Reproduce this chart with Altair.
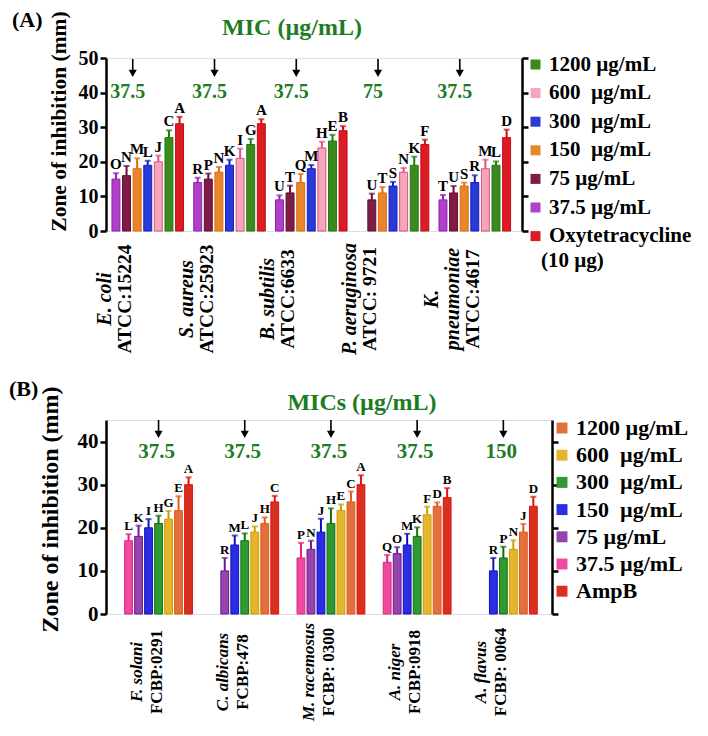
import altair as alt
import pandas as pd

FONT = "Liberation Serif"
GREEN = "#1c7c24"
ARROW = "M-0.09,-1L0.09,-1L0.09,0.2L0.45,0.2L0,1L-0.45,0.2L-0.09,0.2Z"

# ---------------- Panel A (bacteria) ----------------
A_GROUPS = ["E. coli", "S. aureus", "B. subtilis", "P. aeruginosa", "K. pneumoniae"]
A_SPECIES = [["E. coli"], ["S. aureus"], ["B. subtilis"], ["P. aeruginosa"], ["K.", "pneumoniae"]]
A_STRAINS = ["ATCC:15224", "ATCC:25923", "ATCC:6633", "ATCC: 9721", "ATCC:4617"]
A_SERIES = ["37.5 µg/mL", "75 µg/mL", "150\u00a0 µg/mL", "300\u00a0 µg/mL",
            "600\u00a0 µg/mL", "1200 µg/mL", "Oxytetracycline"]
A_VALUES = [
    [15, 16, 18, 19, 20, 27, 31],
    [14, 15, 17, 19, 21, 25, 31],
    [9, 11, 14, 18, 24, 26, 29],
    [None, 9, 11, 13, 17, 19, 25],
    [9, 11, 13, 14, 18, 19, 27],
]
A_ERRORS = [
    [1.7, 2.8, 3.0, 1.3, 1.8, 2.1, 2.0],
    [1.4, 1.6, 1.5, 1.6, 2.8, 1.6, 1.3],
    [1.3, 2.1, 2.5, 1.1, 1.8, 1.8, 1.3],
    [None, 1.8, 1.7, 1.2, 1.2, 2.5, 1.4],
    [1.4, 2.0, 1.0, 2.1, 2.6, 1.1, 2.3],
]
A_LETTERS = [
    ["O", "N", "M", "L", "J", "C", "A"],
    ["R", "P", "N", "K", "I", "G", "A"],
    ["U", "T", "Q", "M", "H", "E", "B"],
    [None, "U", "T", "S", "N", "K", "F"],
    ["T", "U", "S", "R", "M", "L", "D"],
]
A_MIC = ["37.5", "37.5", "37.5", "75", "37.5"]

# ---------------- Panel B (fungi) ----------------
B_GROUPS = ["F. solani", "C. albicans", "M. racemosus", "A. niger", "A. flavus"]
B_SPECIES = [["F. solani"], ["C. albicans"], ["M. racemosus"], ["A. niger"], ["A. flavus"]]
B_STRAINS = ["FCBP:0291", "FCBP:478", "FCBP: 0300", "FCBP:0918", "FCBP: 0064"]
B_SERIES = ["37.5 µg/mL", "75 µg/mL", "150\u00a0 µg/mL", "300\u00a0 µg/mL",
            "600\u00a0 µg/mL", "1200 µg/mL", "AmpB"]
B_VALUES = [
    [17, 18, 20, 21, 22, 24, 30],
    [None, 10, 16, 17, 19, 21, 26],
    [13, 15, 19, 21, 24, 26, 30],
    [12, 14, 16, 18, 23, 25, 27],
    [None, None, 10, 13, 15, 19, 25],
]
B_ERRORS = [
    [1.5, 2.5, 2.0, 1.8, 1.9, 3.3, 1.7],
    [None, 3.0, 2.2, 1.7, 1.3, 1.4, 1.4],
    [3.5, 2.0, 3.1, 3.5, 1.4, 2.4, 2.2],
    [1.7, 1.5, 2.6, 2.1, 1.9, 0.9, 2.2],
    [None, None, 3.0, 2.6, 2.1, 1.9, 2.2],
]
B_LETTERS = [
    ["L", "K", "I", "H", "G", "E", "A"],
    [None, "R", "M", "L", "J", "H", "C"],
    ["P", "N", "J", "H", "E", "C", "A"],
    ["Q", "O", "M", "K", "F", "D", "B"],
    [None, None, "R", "P", "N", "J", "D"],
]
B_MIC = ["37.5", "37.5", "37.5", "37.5", "150"]

# styles (series order)
A_FILLS = ["#b040c8", "#7e1c46", "#e8862a", "#2a3ad4", "#f4a6ba", "#3a8a1e", "#dc1c24"]
A_STROKES = ["#9020b0", "#600e34", "#e06a10", "#1020c0", "#e0507c", "#207a10", "#c80a14"]
B_FILLS = ["#f04aa0", "#9444aa", "#2a2ee0", "#2f9a2f", "#e6b52e", "#e0703c", "#d8301e"]
B_STROKES = ["#e0207f", "#6a1a90", "#1010c0", "#107010", "#c8a000", "#e05a1a", "#e01010"]


def panel(groups, species, strains, series, fills, strokes, values, errors, letters, mic, c):
    rows = []
    for gi, g in enumerate(groups):
        for si, s in enumerate(series):
            v = values[gi][si]
            if v is None:
                continue
            rows.append({"group": g, "series": s, "value": v,
                         "top": v + errors[gi][si], "letter": letters[gi][si]})
    df = pd.DataFrame(rows)
    lab = alt.Data(values=[
        {"group": g, "species": sp, "n": len(sp), "strain": st, "mic": m}
        for g, sp, st, m in zip(groups, species, strains, mic)
    ])
    legend_order = list(reversed(series[:6])) + [series[6]]
    fmap = dict(zip(series, fills))

    X = alt.X("group:N", axis=None,
              scale=alt.Scale(domain=groups, paddingInner=0, paddingOuter=c["po"], align=c["align"]))
    XO = alt.XOffset("series:N",
                     scale=alt.Scale(domain=series, paddingInner=c["pi"], paddingOuter=c["opo"]))
    ys = alt.Scale(domain=[0, c["ymax"]], nice=False, zero=True)
    yvals = list(range(0, c["ytop"] + 1, 10))

    base = alt.Chart(df)
    bars = base.mark_bar(strokeWidth=1).encode(
        x=X, xOffset=XO,
        y=alt.Y("value:Q", scale=ys, axis=alt.Axis(
            orient="left", values=yvals, grid=False,
            title="Zone of inhibition (mm)", titleFont=FONT, titleFontSize=c["ytfs"],
            titleFontWeight="bold", titleColor="black", titleAngle=270,
            titleX=c["tx"], titleY=c["ty"], titleAlign="center", titleBaseline="middle",
            labelFont=FONT, labelFontSize=c["yfs"], labelFontWeight="bold", labelColor="black",
            labelPadding=2, tickSize=6, tickWidth=2.5, tickColor="black",
            domainColor="black", domainWidth=2.5)),
        color=alt.Color("series:N",
                        scale=alt.Scale(domain=legend_order, range=[fmap[s] for s in legend_order]),
                        legend=alt.Legend(
                            title=None, orient="none", legendX=c["lx"], legendY=c["ly"],
                            symbolType="square", symbolSize=c["sym"], symbolStrokeWidth=0,
                            labelFont=FONT, labelFontSize=c["lfs"], labelFontWeight="bold",
                            labelColor="black", rowPadding=c["rp"], labelOffset=c["lo"],
                            labelLimit=400, padding=0)),
        stroke=alt.Stroke("series:N", scale=alt.Scale(domain=series, range=strokes), legend=None),
    )
    err = base.mark_rule(strokeWidth=2).encode(
        x=X, xOffset=XO,
        y=alt.Y("value:Q", scale=ys, axis=alt.Axis(
            orient="right", values=yvals, labels=False, title=None, grid=False,
            tickSize=6, tickWidth=2.5, tickColor="black", domainColor="black", domainWidth=2.5)),
        y2="top:Q",
        stroke=alt.Stroke("series:N", legend=None),
    )
    caps = base.mark_tick(size=6, thickness=2).encode(
        x=X, xOffset=XO,
        y=alt.Y("top:Q", scale=ys, axis=None),
        fill=alt.Fill("series:N", scale=alt.Scale(domain=series, range=strokes), legend=None),
    )
    lets = base.mark_text(font=FONT, fontWeight="bold", fontSize=c["letfs"], baseline="bottom",
                          dy=-1, color="black").encode(
        x=X, xOffset=XO, y=alt.Y("top:Q", scale=ys, axis=None), text="letter:N")

    lc = alt.Chart(lab)
    sp_layer = lc.mark_text(font=FONT, fontStyle="italic", fontWeight="bold", fontSize=c["spfs"],
                            angle=270, align="center", baseline="top", dy=c["ldy"],
                            lineHeight=c["lh"], color="black").encode(
        x=X, y=alt.value(c["ly_lab"]), text="species:N")
    st_layers = []
    for nlines in (1, 2):
        st_layers.append(
            lc.transform_filter(alt.datum.n == nlines).mark_text(
                font=FONT, fontWeight="bold", fontSize=c["stfs"], angle=270, align="center",
                baseline="top", dy=c["ldy"] + nlines * c["lh"], color="black").encode(
                x=X, y=alt.value(c["ly_lab"]), text="strain:N"))
    arrows = lc.mark_point(shape=ARROW, size=324, filled=True, color="black", opacity=1,
                           strokeWidth=0, xOffset=c["adx"]).encode(
        x=X, y=alt.value(c["ay"]))
    mics = lc.mark_text(font=FONT, fontWeight="bold", fontSize=c["mfs"], color=GREEN,
                        dx=c["mdx"], baseline="middle").encode(
        x=X, y=alt.value(c["my"]), text="mic:N")

    one = alt.Chart(alt.Data(values=[{"k": 1}]))
    tag = one.mark_text(text=c["tag"], font=FONT, fontWeight="bold", fontSize=22, align="left",
                        baseline="middle", color="black").encode(
        x=alt.value(c["tagx"]), y=alt.value(c["tagy"]))
    ttl = one.mark_text(text=c["title"], font=FONT, fontWeight="bold", fontSize=24, align="center",
                        baseline="middle", color=GREEN).encode(
        x=alt.value(c["ttx"]), y=alt.value(c["tty"]))
    layers = [bars, err, caps, lets, sp_layer] + st_layers + [arrows, mics, tag, ttl]
    if c.get("extra"):
        layers.append(one.mark_text(text=c["extra"], font=FONT, fontWeight="bold", fontSize=c["lfs"],
                                    align="left", baseline="middle", color="black").encode(
            x=alt.value(c["ex"]), y=alt.value(c["ey"])))
    return alt.layer(*layers).resolve_axis(y="independent").properties(
        width=c["w"], height=c["h"])


cfgA = dict(w=416, h=173, ymax=50, ytop=50, po=0.044, align=0.12, pi=0.25, opo=0.48,
            ytfs=21.5, tx=-47, ty=63, yfs=20, lx=419, ly=-4, sym=100, lfs=21, rp=6.6, lo=3,
            letfs=15, spfs=20, stfs=19.5, ldy=-53, lh=21, ly_lab=241, adx=-15, ay=10, mfs=20,
            mdx=-20, my=34, tag="(A)", tagx=-94, tagy=-38, title="MIC (µg/mL)", ttx=186, tty=-30,
            extra="(10 µg)", ex=435, ey=203)
cfgB = dict(w=446, h=194, ymax=45, ytop=40, po=0.087, align=0.63, pi=0.22, opo=0.92,
            ytfs=24, tx=-56, ty=89, yfs=21, lx=445, ly=-3, sym=120, lfs=22, rp=5.2, lo=3,
            letfs=13, spfs=17, stfs=17, ldy=-30, lh=20, ly_lab=252, adx=0, ay=9, mfs=21, mdx=-2,
            my=32, tag="(B)", tagx=-97, tagy=-31, title="MICs (µg/mL)", ttx=256, tty=-17)

pA = panel(A_GROUPS, A_SPECIES, A_STRAINS, A_SERIES, A_FILLS, A_STROKES,
           A_VALUES, A_ERRORS, A_LETTERS, A_MIC, cfgA)
pB = panel(B_GROUPS, B_SPECIES, B_STRAINS, B_SERIES, B_FILLS, B_STROKES,
           B_VALUES, B_ERRORS, B_LETTERS, B_MIC, cfgB)

chart = alt.concat(pA, pB, columns=1, align="none", spacing=21).resolve_scale(
    color="independent", stroke="independent", fill="independent",
    x="independent", y="independent", xOffset="independent",
).properties(padding={"left": 0, "top": 0, "right": 0, "bottom": 0},
             background="white").configure_view(
    stroke="black", strokeWidth=2.5).configure(font=FONT)

chart.save("out.html", embed_options={"renderer": "svg", "actions": False})
